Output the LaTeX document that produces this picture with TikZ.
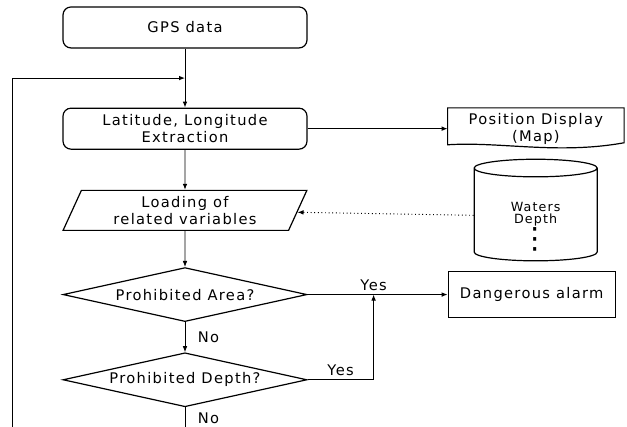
\documentclass[tikz,border=0pt]{standalone}
\usepackage{fontspec}
\setmainfont{DejaVu Sans}[LetterSpace=9]
\usetikzlibrary{shapes,positioning,calc,arrows.meta}

\begin{document}
\begin{tikzpicture}
  [roundbox/.style={rectangle,rounded corners=6pt,draw,line width=0.9pt,minimum width=183pt,minimum height=30.75pt,align=center},
   iobox/.style={trapezium,trapezium left angle=70,trapezium right angle=110,trapezium stretches,draw,line width=0.9pt,minimum width=183pt,minimum height=30pt,align=center},
   decide/.style={diamond,aspect=4,inner sep=0pt,draw,line width=0.9pt,minimum width=183pt,minimum height=40.5pt},
   docbox/.style={rectangle,minimum width=132pt,minimum height=30.75pt,align=center},
   dbase/.style={cylinder,shape border rotate=90,aspect=0.3,draw,line width=0.9pt,minimum width=92.25pt,minimum height=69pt,align=center,font=\fontsize{9.5}{9}\selectfont},
   alarmbox/.style={rectangle,draw,line width=0.9pt,minimum width=125.25pt,minimum height=34.5pt},
   conn/.style={line width=0.7pt,-{Latex[length=4.5pt,width=3.5pt]}},
   font=\fontsize{11}{12.5}\selectfont]

  \useasboundingbox (-138.75pt,20.6pt) rectangle (331.5pt,-299.6pt);

  \node[roundbox] (gps) {GPS data};
  \node[roundbox] (lat) [below=44.25pt of gps] {Latitude, Longitude\\Extraction};
  \node[iobox] (load) [below=30pt of lat] {Loading of\\related variables};
  \node[decide] (d1) [below=27pt of load] {Prohibited Area?};
  \node[decide] (d2) [below=22.5pt of d1] {Prohibited Depth?};
  \node[docbox] (disp) [right=105pt of lat] {Position Display\\(Map)};
  \node[dbase] (db) [right=263pt of load.center,anchor=center,yshift=-4.5pt] {\rule{0pt}{22pt}Waters\\Depth\\{\fontsize{22}{10}\selectfont ⋮}};
  \node[alarmbox] (alarm) [right=105pt of d1] {Dangerous alarm};

  % wavy bottom of the display box
  \draw[line width=0.9pt] (disp.north west) -- (disp.north east) -- ([yshift=5pt]disp.south east)
    .. controls ([xshift=-50pt,yshift=-4pt]disp.south east) and ([xshift=40pt,yshift=6pt]disp.south west) .. ([yshift=3.5pt]disp.south west) -- cycle;

  \coordinate (loopin) at ($(gps.south)!0.5!(lat.north)$);
  \coordinate[below=16.5pt of d2.south] (d2out);
  \coordinate (loopstart) at ($(d2out)+(-129.75pt,0)$);
  \coordinate[right=49.5pt of d1.east] (yesjoin);

  \draw[conn] (gps) -- (lat);
  \draw[conn] (loopstart) |- (loopin);
  \draw[conn] (lat) -- (disp);
  \draw[conn] (lat) -- (load);
  \draw[conn,dotted] (db) -- (load);
  \draw[conn] (load) -- (d1);
  \draw[conn] (d1) -- (alarm);
  \node[above=-1pt] (yes1) at (yesjoin) {Yes};
  \draw[conn] (d1) -- node[right=6pt] (no1) {No} (d2);
  \draw[conn] (d2.east) -| node[pos=0.25,above=-1pt] (yes2) {Yes} (yesjoin);
  \draw[line width=0.7pt] (d2) -- node[right=6pt] (no2) {No} (d2out);
\end{tikzpicture}
\end{document}
